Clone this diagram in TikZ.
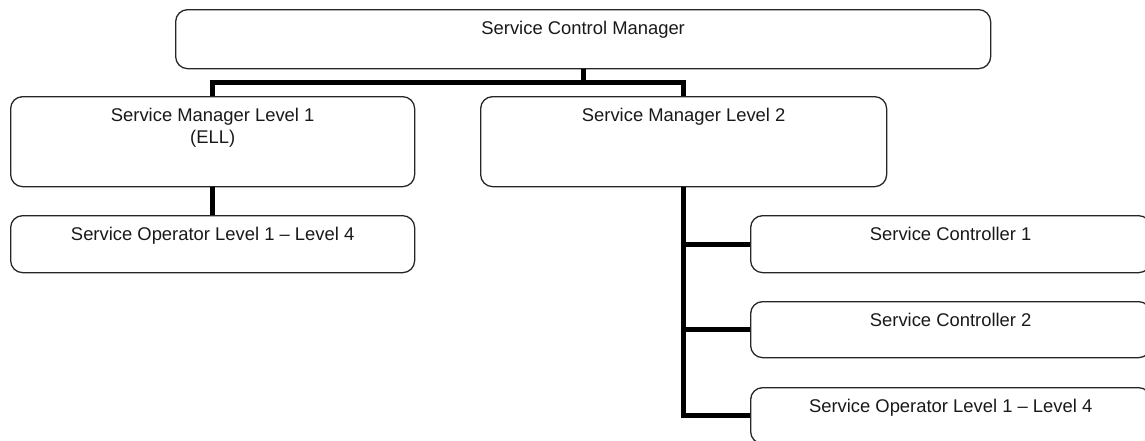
\documentclass[tikz,border=0pt]{standalone}
\usepackage{fontspec}
\setmainfont{Liberation Sans}
\begin{document}
\begin{tikzpicture}[x=1pt,y=-1pt,
  box/.style={draw=black!85, line width=1.3pt, rounded corners=12pt, anchor=north west, inner sep=0pt, minimum width=#1},
  box/.default=400pt,
  txt/.style={anchor=north, inner sep=0pt, yshift=-11.5pt, align=center, font=\fontsize{18.4}{22}\selectfont, text=black!90},
  conn/.style={line width=5pt, draw=black}]
\useasboundingbox (0,0) rectangle (1145,440);
\node[box=815pt, minimum height=59pt, label={[txt]north:Service Control Manager}] (scm) at (175,9) {};
\node[box=404pt, minimum height=90pt, label={[txt]north:Service Manager Level 1\\(ELL)}] (sm1) at (10,96) {};
\node[box=406pt, minimum height=90pt, label={[txt]north:Service Manager Level 2}] (sm2) at (480,96) {};
\node[box=404pt, minimum height=57pt, label={[txt]north:Service Operator Level 1 -- Level 4}] (so1) at (10,215) {};
\node[box=400pt, minimum height=57pt, label={[txt]north:Service Controller 1}] (sc1) at (750,215) {};
\node[box=400pt, minimum height=56pt, label={[txt]north:Service Controller 2}] (sc2) at (750,301) {};
\node[box=400pt, minimum height=56pt, label={[txt]north:Service Operator Level 1 -- Level 4}] (so2) at (750,387) {};
\coordinate (bus) at (0,82);
\draw[conn] (scm.south) -- (scm.south |- bus);
\draw[conn] (sm1.north) -- (sm1.north |- bus) -- (sm2.north |- bus) -- (sm2.north);
\draw[conn] (sm1.south) -- (so1.north);
\draw[conn] (sm2.south) |- (so2.west);
\draw[conn] (sm2.south |- sc1.west) -- (sc1.west);
\draw[conn] (sm2.south |- sc2.west) -- (sc2.west);
\end{tikzpicture}
\end{document}
